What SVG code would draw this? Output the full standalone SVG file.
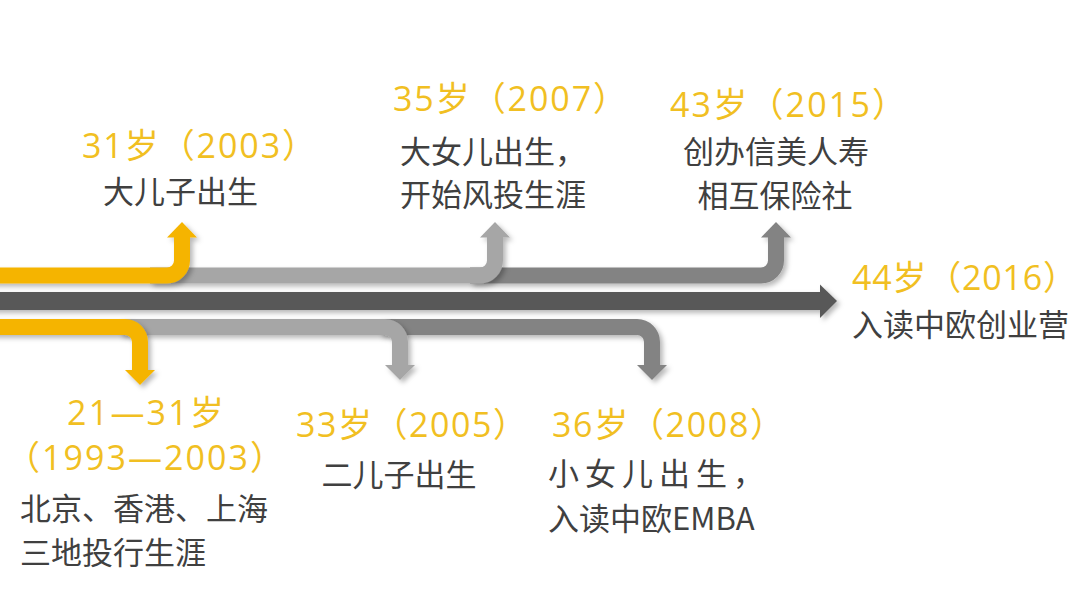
<svg xmlns="http://www.w3.org/2000/svg" width="1080" height="608" viewBox="0 0 1080 608">
  <defs>
    <filter id="sh" x="-20%" y="-50%" width="140%" height="200%">
      <feDropShadow dx="3" dy="3" stdDeviation="2.5" flood-color="#000" flood-opacity="0.28"/>
    </filter>
    <style>
      .yr { font-family: "Open Sans", "Noto Sans CJK SC", sans-serif; font-size: 34px; fill: #F1BF22; }
      .tx { font-family: "Noto Sans CJK SC", "Noto Sans", sans-serif; font-size: 31px; fill: #404040; }
      .mid { text-anchor: middle; }
      .bar { fill: none; stroke-width: 16; stroke-linecap: butt; }
      .y { stroke: #F5B400; } .yf { fill: #F5B400; }
      .l { stroke: #A6A6A6; } .lf { fill: #A6A6A6; }
      .m { stroke: #838383; } .mf { fill: #838383; }
      .d { stroke: #595959; } .df { fill: #595959; }
    </style>
  </defs>
  <rect width="1080" height="608" fill="#FFFFFF"/>

  <g id="connectors">
    <g id="main-arrow" filter="url(#sh)">
      <path class="bar d" d="M -10 301 H 821" style="stroke-width:18"/>
      <polygon class="df" points="820,284.5 837,301 820,318"/>
    </g>
    <g id="up-2015" filter="url(#sh)">
      <path class="bar m" d="M 470 275.5 H 761 A 15 15 0 0 0 776 260.5 V 236"/>
      <polygon class="mf" points="761,237.5 776,222 791,237.5"/>
    </g>
    <g id="up-2007" filter="url(#sh)">
      <path class="bar l" d="M 150 275.5 H 480 A 15 15 0 0 0 495 260.5 V 236"/>
      <polygon class="lf" points="480,237.5 495,222 510,237.5"/>
    </g>
    <g id="up-2003" filter="url(#sh)">
      <path class="bar y" d="M -10 275.5 H 167 A 15 15 0 0 0 182 260.5 V 236"/>
      <polygon class="yf" points="167,237.5 182,222 197,237.5"/>
    </g>
    <g id="down-2008" filter="url(#sh)">
      <path class="bar m" d="M 380 327 H 637 A 15 15 0 0 1 652 342 V 366"/>
      <polygon class="mf" points="637,365 652,380 667,365"/>
    </g>
    <g id="down-2005" filter="url(#sh)">
      <path class="bar l" d="M 120 327 H 385 A 15 15 0 0 1 400 342 V 366"/>
      <polygon class="lf" points="385,365 400,380 415,365"/>
    </g>
    <g id="down-1993" filter="url(#sh)">
      <path class="bar y" d="M -10 327 H 125 A 15 15 0 0 1 140 342 V 371"/>
      <polygon class="yf" points="125,370 140,385 155,370"/>
    </g>
  </g>

  <g id="node-2003">
    <text class="yr" x="82" y="158" textLength="234">31岁（2003）</text>
    <text class="tx mid" x="180.5" y="203">大儿子出生</text>
  </g>
  <g id="node-2007">
    <text class="yr" x="393" y="111" textLength="234">35岁（2007）</text>
    <text class="tx" x="400" y="163">大女儿出生，</text>
    <text class="tx" x="400" y="206">开始风投生涯</text>
  </g>
  <g id="node-2015">
    <text class="yr" x="670" y="117" textLength="236">43岁（2015）</text>
    <text class="tx mid" x="776" y="163">创办信美人寿</text>
    <text class="tx mid" x="775" y="207">相互保险社</text>
  </g>
  <g id="node-2016">
    <text class="yr" x="852" y="290" textLength="225">44岁（2016）</text>
    <text class="tx" x="852" y="336">入读中欧创业营</text>
  </g>
  <g id="node-1993">
    <text class="yr" x="67" y="425" textLength="157">21—31岁</text>
    <text class="yr" x="6" y="470" textLength="278">（1993—2003）</text>
    <text class="tx" x="20" y="520">北京、香港、上海</text>
    <text class="tx" x="20" y="564">三地投行生涯</text>
  </g>
  <g id="node-2005">
    <text class="yr" x="296" y="437" textLength="231">33岁（2005）</text>
    <text class="tx mid" x="399" y="486">二儿子出生</text>
  </g>
  <g id="node-2008">
    <text class="yr" x="552" y="437" textLength="232">36岁（2008）</text>
    <text class="tx" x="548" y="485" letter-spacing="6">小女儿出生，</text>
    <text class="tx" x="548" y="530">入读中欧EMBA</text>
  </g>
</svg>
